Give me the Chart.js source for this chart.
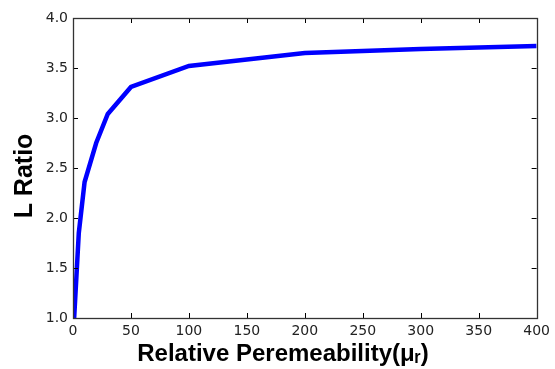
<!DOCTYPE html>
<html>
<head>
<meta charset="utf-8">
<script src="https://cdn.jsdelivr.net/npm/chart.js@4"></script>
<style>
html,body{margin:0;padding:0;background:#fff;}
#wrap{width:555px;height:369px;position:relative;}
</style>
</head>
<body>
<div id="wrap"><canvas id="c" width="555" height="369"></canvas></div>
<script>
const permeability = [1, 5, 10, 20, 30, 50, 100, 200, 300, 400];
const lRatio = [1.0, 1.85, 2.36, 2.75, 3.04, 3.31, 3.52, 3.65, 3.69, 3.72];
const xTicks = [0, 50, 100, 150, 200, 250, 300, 350, 400];
const yTicks = [1.0, 1.5, 2.0, 2.5, 3.0, 3.5, 4.0];
const xTitle = 'Relative Peremeability(μᵣ)';
const yTitle = 'L Ratio';

const framePlugin = {
  id: 'frame',
  afterDraw(chart) {
    const ctx = chart.ctx;
    const a = chart.chartArea;
    const xs = chart.scales.x, ys = chart.scales.y;
    ctx.save();
    ctx.strokeStyle = '#000';
    ctx.lineWidth = 1;
    ctx.beginPath();
    const L = 5;
    xTicks.forEach(v => {
      const px = Math.round(xs.getPixelForValue(v)) + 0.5;
      ctx.moveTo(px, a.bottom); ctx.lineTo(px, a.bottom - L);
      ctx.moveTo(px, a.top); ctx.lineTo(px, a.top + L);
    });
    yTicks.forEach(v => {
      const py = Math.round(ys.getPixelForValue(v)) + 0.5;
      ctx.moveTo(a.left, py); ctx.lineTo(a.left + L, py);
      ctx.moveTo(a.right, py); ctx.lineTo(a.right - L, py);
    });
    ctx.stroke();
    ctx.strokeStyle = '#333';
    ctx.lineWidth = 1.3;
    ctx.strokeRect(Math.round(a.left)+0.5, Math.round(a.top)+0.5, Math.round(a.right-a.left), Math.round(a.bottom-a.top));

    // axis titles
    ctx.fillStyle = '#000';
    ctx.textBaseline = 'alphabetic';
    ctx.textAlign = 'center';
    ctx.font = 'bold 24px "Liberation Sans", Arial, sans-serif';
    ctx.fillText(xTitle, 283, 361);
    ctx.translate(32, 176);
    ctx.rotate(-Math.PI / 2);
    ctx.font = 'bold 25px "Liberation Sans", Arial, sans-serif';
    ctx.fillText(yTitle, 0, 0);
    ctx.restore();
  }
};

new Chart(document.getElementById('c'), {
  type: 'line',
  data: {
    datasets: [{
      data: permeability.map((x, i) => ({x: x, y: lRatio[i]})),
      borderColor: '#0000ff',
      borderWidth: 4.5,
      pointRadius: 0,
      tension: 0,
      fill: false
    }]
  },
  options: {
    responsive: false,
    animation: false,
    layout: {padding: {top: 18, right: 15, left: 0, bottom: 0}},
    plugins: {legend: {display: false}, tooltip: {enabled: false}},
    scales: {
      x: {
        type: 'linear', min: 0, max: 400,
        afterBuildTicks: s => { s.ticks = xTicks.map(v => ({value: v})); },
        afterFit: s => { s.height = 51; },
        grid: {display: false, drawTicks: false},
        border: {display: false},
        ticks: {padding: 5, color: '#222', font: {family: 'DejaVu Sans', size: 14}, maxRotation: 0},
        title: {display: false}
      },
      y: {
        type: 'linear', min: 1, max: 4,
        afterBuildTicks: s => { s.ticks = yTicks.map(v => ({value: v})); },
        afterFit: s => { s.width = 73; },
        grid: {display: false, drawTicks: false},
        border: {display: false},
        ticks: {padding: 5, color: '#222', font: {family: 'DejaVu Sans', size: 14},
          callback: v => Number(v).toFixed(1)},
        title: {display: false}
      }
    }
  },
  plugins: [framePlugin]
});
</script>
</body>
</html>
